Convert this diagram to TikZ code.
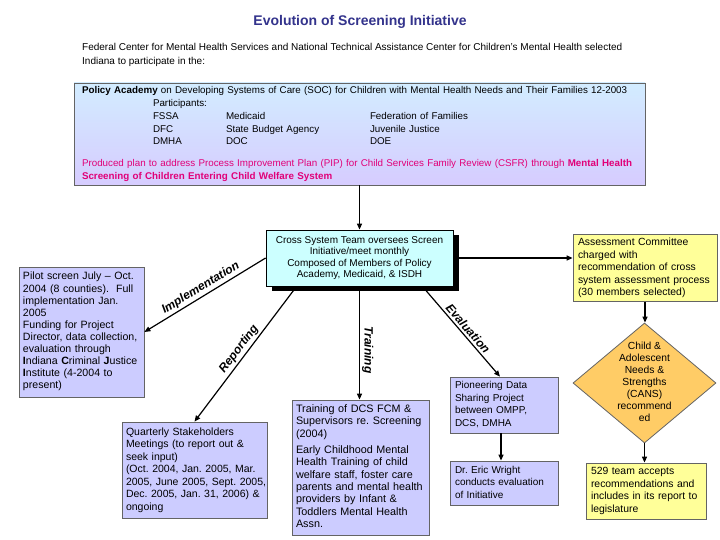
\documentclass[tikz,border=0pt]{standalone}
\usepackage{fontspec}
\setmainfont{Liberation Sans}
\usetikzlibrary{shapes.geometric,shadows,arrows.meta,calc}
\definecolor{titleblue}{RGB}{51,51,140}
\definecolor{lav}{RGB}{204,204,255}
\definecolor{cyanbox}{RGB}{204,255,255}
\definecolor{yel}{RGB}{255,255,153}
\definecolor{orng}{RGB}{255,204,102}
\definecolor{pinkc}{RGB}{225,0,120}
\definecolor{pboxtop}{RGB}{210,236,255}
\definecolor{pboxbot}{RGB}{214,204,255}
\definecolor{edgegray}{RGB}{100,100,100}
\newcommand{\boxlines}[1]{\begin{tabular}{@{}l@{}}#1\end{tabular}}
\frenchspacing
\begin{document}
\begin{tikzpicture}[x=1pt,y=-1pt,
  box/.style={draw=edgegray, line width=0.8pt, rectangle, inner xsep=5pt, inner ysep=2pt, align=left},
  lavbox/.style={box, fill=lav},
  yelbox/.style={box, fill=yel},
  conn/.style={line width=1.2pt, -{Triangle[length=6pt,width=5pt]}},
  lbl/.style={font=\bfseries\itshape\fontsize{12}{14}\selectfont, inner sep=2pt}
]
\useasboundingbox (0,0) rectangle (720,540);
\fill[white] (0,0) rectangle (720,540);

% title and intro
\node[font=\bfseries\fontsize{14}{16}\selectfont, text=titleblue] (title) at (360,22) {Evolution of Screening Initiative};
\node[anchor=north west, align=left, inner sep=0pt, font=\fontsize{10}{14}\selectfont] (intro) at (82,43.5)
  {Federal Center for Mental Health Services and National Technical Assistance Center for Children’s Mental Health selected\\
   Indiana to participate in the:};

% policy academy box
\node[draw=edgegray, line width=0.8pt, top color=pboxtop, bottom color=pboxbot,
      minimum width=571pt, minimum height=102pt, text width=555pt, inner xsep=8pt, align=left,
      font=\fontsize{9.8}{12.7}\selectfont] (policy) at (359.5,134)
  {\mbox{\textbf{Policy Academy} on Developing Systems of Care (SOC) for Children with Mental Health Needs and Their Families 12-2003}\\
   \hspace*{71pt}Participants:\\
   \hspace*{71pt}\makebox[73pt][l]{FSSA}\makebox[144pt][l]{Medicaid}Federation of Families\\
   \hspace*{71pt}\makebox[73pt][l]{DFC}\makebox[144pt][l]{State Budget Agency}Juvenile Justice\\
   \hspace*{71pt}\makebox[73pt][l]{DMHA}\makebox[144pt][l]{DOC}DOE\\[9pt]
   {\color{pinkc}\mbox{Produced plan to address Process Improvement Plan (PIP) for Child Services Family Review (CSFR) through \textbf{Mental Health}}}\\
   {\color{pinkc}\textbf{Screening of Children Entering Child Welfare System}}};

% cross system team
\node[draw=black, line width=0.8pt, fill=cyanbox, minimum width=187pt, minimum height=56pt,
      align=center, inner sep=2pt, font=\fontsize{10}{11.6}\selectfont,
      drop shadow={shadow xshift=6pt, shadow yshift=-5pt, opacity=1, fill=black}] (cross) at (359.5,258)
  {Cross System Team oversees Screen\\ Initiative/meet monthly\\ Composed of Members of Policy\\ Academy, Medicaid, \& ISDH};

% right column
\node[yelbox, minimum width=144pt, minimum height=64pt, text width=134pt, font=\fontsize{10.4}{12.5}\selectfont] (assess) at (645,268)
  {\boxlines{Assessment Committee\\ charged with\\ recommendation of cross\\ system assessment process\\ (30 members selected)}};
\node[diamond, draw=edgegray, line width=0.8pt, fill=orng, minimum width=143pt, minimum height=120pt, inner sep=0pt] (cans) at (644.5,383)
  {\makebox[0pt]{\raisebox{-2.5pt}[0pt][0pt]{\fontsize{10.3}{12}\selectfont\begin{tabular}{@{}c@{}}Child \&\\ Adolescent\\ Needs \&\\ Strengths\\ (CANS)\\ recommend\\ ed\end{tabular}}}};
\node[yelbox, minimum width=120pt, minimum height=56pt, text width=110pt, font=\fontsize{10.4}{12.5}\selectfont] (b529) at (646,491)
  {\boxlines{529 team accepts\\ recommendations and\\ includes in its report to\\ legislature}};

% lavender boxes
\node[lavbox, minimum width=125pt, minimum height=130pt, text width=117pt, inner xsep=4pt, font=\fontsize{10.6}{12.1}\selectfont] (pilot) at (81.5,332)
  {\boxlines{Pilot screen July – Oct.\\ 2004 (8 counties).\ \ Full\\ implementation Jan.\\ 2005\\ Funding for Project\\ Director, data collection,\\ evaluation through\\ \textbf{I}ndiana \textbf{C}riminal \textbf{J}ustice\\ \textbf{I}nstitute (4-2004 to\\ present)}};
\node[lavbox, minimum width=145pt, minimum height=96pt, text width=137pt, inner xsep=4pt, font=\fontsize{10.5}{12.5}\selectfont] (quart) at (194.5,470)
  {\boxlines{Quarterly Stakeholders\\ Meetings (to report out \&\\ seek input)\\ (Oct. 2004, Jan. 2005, Mar.\\ 2005, June 2005, Sept. 2005,\\ Dec. 2005, Jan. 31, 2006) \&\\ ongoing}};
\node[lavbox, minimum width=137pt, minimum height=135pt, text width=129pt, inner xsep=4pt, font=\fontsize{10.8}{12.3}\selectfont] (train) at (360.5,467.5)
  {\boxlines{Training of DCS FCM \&\\ Supervisors re. Screening\\ (2004)\\[4pt] Early Childhood Mental\\ Health Training of child\\ welfare staff, foster care\\ parents and mental health\\ providers by Infant \&\\ Toddlers Mental Health\\ Assn.}};
\node[lavbox, minimum width=108pt, minimum height=56pt, text width=98pt, font=\fontsize{10}{12.5}\selectfont] (pioneer) at (504,405)
  {\boxlines{Pioneering Data\\ Sharing Project\\ between OMPP,\\ DCS, DMHA}};
\node[lavbox, minimum width=108pt, minimum height=44pt, text width=98pt, font=\fontsize{10}{12.5}\selectfont] (eric) at (504,483)
  {\boxlines{Dr. Eric Wright\\ conducts evaluation\\ of Initiative}};

% connectors
\draw[conn] (policy.south) -- (cross.north);
\draw[conn] (cross.east) -- (cross.east -| assess.west);
\draw[conn] (assess.south) -- (assess.south |- cans.north);
\draw[conn] (cans.south) -- (cans.south |- b529.north);
\draw[conn] (cross.west) -- node[lbl, pos=0.5, sloped, above] {Implementation} (pilot.east);
\draw[conn] ([xshift=31pt]cross.south west) -- node[lbl, pos=0.5, sloped, above] {Reporting} (quart.north);
\draw[conn] (cross.south) -- node[lbl, pos=0.56, sloped, above] {Training} (cross.south |- train.north);
\draw[conn] ([xshift=-31pt]cross.south east) -- node[lbl, pos=0.52, sloped, above] {Evaluation} ([xshift=-4pt]pioneer.north);
\draw[conn] ([xshift=-3pt]pioneer.south) -- ([xshift=-3pt]eric.north);
\end{tikzpicture}
\end{document}
